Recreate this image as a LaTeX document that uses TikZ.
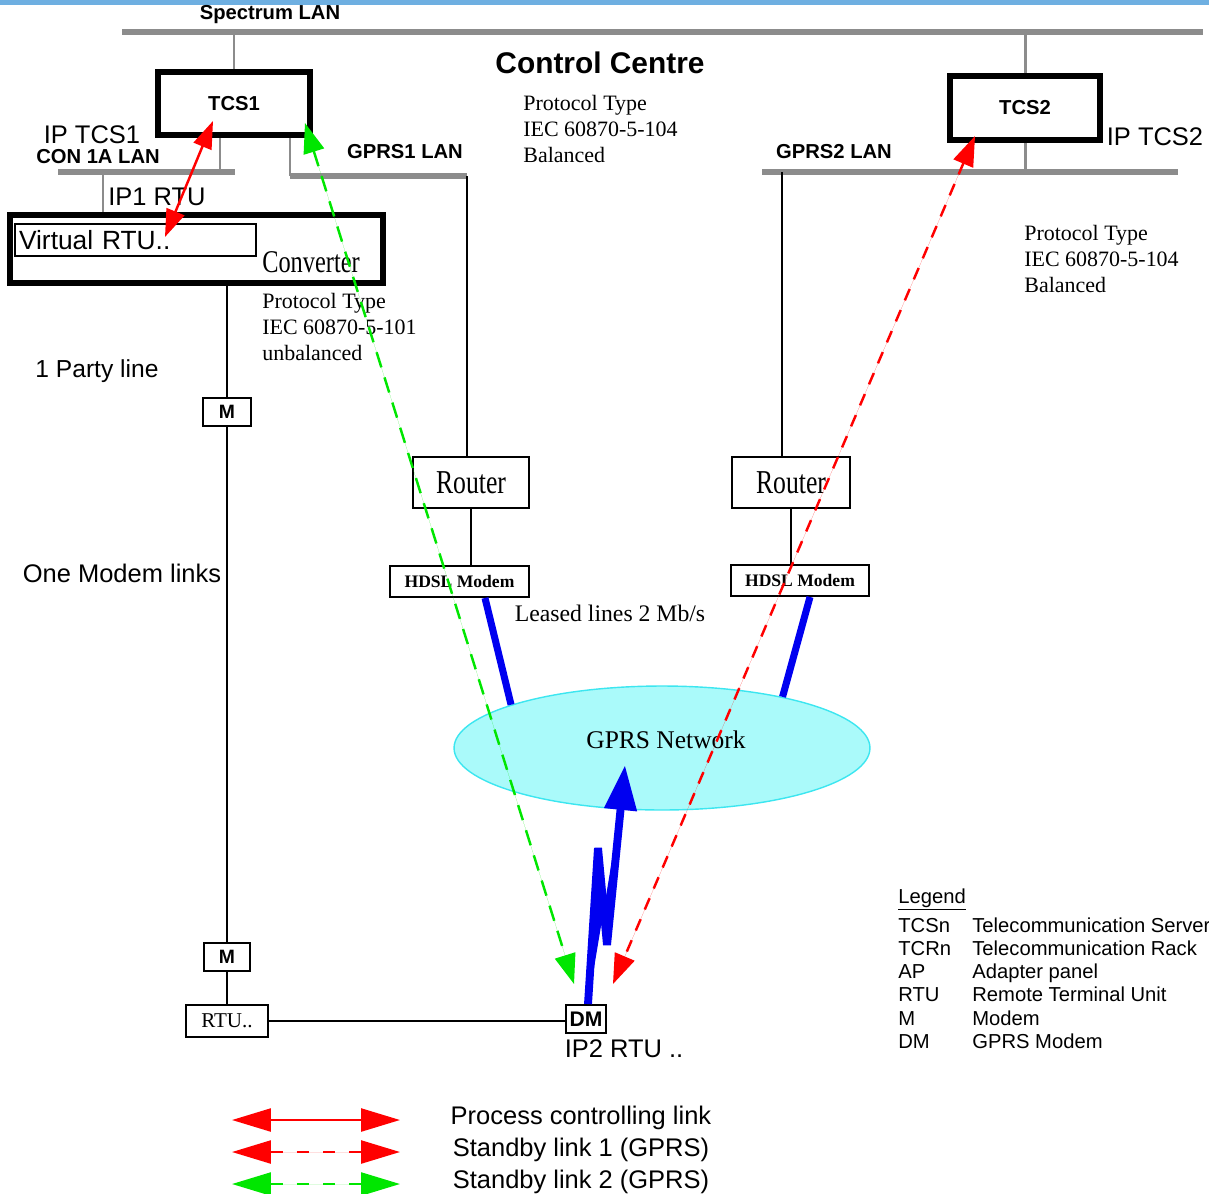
\documentclass[tikz,border=0pt]{standalone}
\usepackage{fontspec}
\usepackage{graphicx}
\setmainfont{Liberation Sans}
\newfontfamily\timesfont{Liberation Serif}
\usetikzlibrary{arrows.meta,shapes.geometric}
\definecolor{lanGray}{RGB}{140,140,140}
\definecolor{topBlue}{RGB}{110,175,225}
\definecolor{netCyan}{RGB}{170,250,250}
\definecolor{netEdge}{RGB}{60,230,240}
\definecolor{linkGreen}{RGB}{0,230,0}
\definecolor{linkRed}{RGB}{255,0,0}
\definecolor{leasedBlue}{RGB}{0,0,240}
\newcommand{\fsz}[2]{\fontsize{#1}{#2}\selectfont}
\newcommand{\narrowtxt}[1]{\scalebox{0.77}[1]{#1}}

\begin{document}
\begin{tikzpicture}[x=0.02cm, y=-0.02cm,
	thickbox/.style={draw, line width=3.4pt, inner sep=0pt},
	thinbox/.style={draw, line width=1.1pt, inner sep=1pt},
	lan/.style={draw=lanGray, line width=3pt},
	tap/.style={draw=lanGray, line width=1.7pt},
	wire/.style={draw, line width=1.1pt},
	leased/.style={draw=leasedBlue, line width=4pt},
	lab/.style={font=\fsz{14.5}{17}, inner sep=0pt},
	blab/.style={font=\fsz{11.5}{13}\bfseries, inner sep=0pt},
	serlab/.style={font=\timesfont\fsz{12.5}{15}, align=left, inner sep=0pt},
	leg/.style={font=\fsz{11.5}{13}, inner sep=0pt},
	procl/.style={draw=linkRed, fill=linkRed, line width=1.4pt,
		arrows={Triangle[length=0.55cm,width=0.38cm]-Triangle[length=0.55cm,width=0.38cm]}},
	sbone/.style={draw=linkRed, fill=linkRed, line width=1.4pt, dash pattern=on 7pt off 6pt,
		arrows={Triangle[length=0.6cm,width=0.42cm]-Triangle[length=0.6cm,width=0.42cm]}},
	sbtwo/.style={draw=linkGreen, fill=linkGreen, line width=1.4pt, dash pattern=on 9pt off 6pt,
		arrows={Triangle[length=0.6cm,width=0.42cm]-Triangle[length=0.6cm,width=0.42cm]}},
	lgproc/.style={procl, arrows={Triangle[length=0.78cm,width=0.46cm]-Triangle[length=0.78cm,width=0.46cm]}},
	lgsbone/.style={sbone, dash pattern=on 7pt off 8pt, arrows={Triangle[length=0.78cm,width=0.46cm]-Triangle[length=0.78cm,width=0.46cm]}},
	lgsbtwo/.style={sbtwo, dash pattern=on 7pt off 8pt, arrows={Triangle[length=0.78cm,width=0.46cm]-Triangle[length=0.78cm,width=0.46cm]}}]
	\useasboundingbox (0,0) rectangle (1209,1193);
	\fill[topBlue] (0,0) rectangle (1209,5);

	% control centre
	\node (tcsone) [thickbox, minimum width=3.04cm, minimum height=1.26cm, font=\fsz{11.5}{13}\bfseries] at (234,103.5) {TCS1};
	\node (tcstwo) [thickbox, minimum width=3.0cm, minimum height=1.28cm, font=\fsz{11.5}{13}\bfseries] at (1025,108) {TCS2};
	\node (conv) [thickbox, minimum width=7.46cm, minimum height=1.36cm] at (196.5,249) {};
	\node (vrtu) [thinbox, minimum width=4.82cm, minimum height=0.64cm, text width=4.66cm, align=left, inner sep=0.08cm, font=\fsz{15}{17}] at (135.5,240) {Virtual RTU..};
	\node (convtxt) [font=\timesfont\fsz{18}{20}, inner sep=0pt] at (311,262) {\narrowtxt{Converter}};

	\node (spectxt) [blab] at (270,15) {Spectrum LAN};
	\node (ctrltxt) [font=\fsz{17}{20}\bfseries, inner sep=0pt] at (600,63) {Control Centre};
	\node (iptcsone) [lab] at (92,135) {IP TCS1};
	\node (contxt) [blab] at (98,157) {CON 1A LAN};
	\node (iponertu) [lab] at (157,197) {IP1 RTU};
	\node (gprsonetxt) [blab] at (405,152) {GPRS1 LAN};
	\node (gprstwotxt) [blab] at (834,152) {GPRS2 LAN};
	\node (iptcstwo) [lab] at (1155,137) {IP TCS2};

	\node (protoa) [serlab, anchor=west] at (523,129) {Protocol Type\\IEC 60870-5-104\\Balanced};
	\node (protob) [serlab, anchor=west] at (1024,259) {Protocol Type\\IEC 60870-5-104\\Balanced};
	\node (protoc) [serlab, anchor=west] at (262,327) {Protocol Type\\IEC 60870-5-101\\unbalanced};

	% LANs
	\coordinate (spl) at (122,32);
	\coordinate (spr) at (1203,32);
	\coordinate (conl) at (58,172);
	\coordinate (conr) at (235,172);
	\coordinate (tapa) at (220,172);
	\coordinate (tapb) at (103,172);
	\coordinate (gol) at (290,176);
	\coordinate (gor) at (467,176);
	\coordinate (gtl) at (762,172);
	\coordinate (gtr) at (1178,172);
	\coordinate (taps) at (782,172);

	\draw[lan, line width=3.4pt] (spl) -- (spr);
	\draw[tap] (tcsone.north) -- (tcsone.north |- spl);
	\draw[tap] (tcstwo.north) -- (tcstwo.north |- spr);
	\draw[lan] (conl) -- (conr);
	\draw[tap] (tapa) -- (tapa |- tcsone.south);
	\draw[tap] (tapb) -- (tapb |- conv.north);
	\draw[tap] (gol |- tcsone.south) -- (gol);
	\draw[lan] (gol) -- (gor);
	\draw[lan] (gtl) -- (gtr);
	\draw[tap] (tcstwo.south) -- (tcstwo.south |- gtl);

	% leased line side
	\node (routerone) [thinbox, minimum width=2.32cm, minimum height=1.02cm, font=\timesfont\fsz{19}{21}] at (471,482.5) {\narrowtxt{Router}};
	\node (routertwo) [thinbox, minimum width=2.36cm, minimum height=1.02cm, font=\timesfont\fsz{19}{21}] at (791,482.5) {\narrowtxt{Router}};
	\node (hdslone) [thinbox, minimum width=2.78cm, minimum height=0.62cm, font=\timesfont\fsz{10}{12}\bfseries] at (459.5,581.5) {HDSL Modem};
	\node (hdsltwo) [thinbox, minimum width=2.76cm, minimum height=0.62cm, font=\timesfont\fsz{10}{12}\bfseries] at (800,580.5) {HDSL Modem};
	\node (leasedtxt) [font=\timesfont\fsz{13.5}{16}, inner sep=0pt] at (610,613) {Leased lines 2 Mb/s};

	\draw[wire] (gor) -- (gor |- routerone.north);
	\draw[wire] (taps) -- (taps |- routertwo.north);
	\draw[wire] (routerone.south) -- (routerone.south |- hdslone.north);
	\draw[wire] (routertwo.south) -- (routertwo.south |- hdsltwo.north);

	\node (gprs) [ellipse, draw=netEdge, fill=netCyan, line width=0.8pt, minimum width=8.32cm, minimum height=2.48cm] at (662,748) {};
	\node (nettxt) [font=\timesfont\fsz{14.5}{17}, inner sep=0pt] at (666,740) {GPRS Network};

	\draw[leased] ([xshift=0.51cm]hdslone.south) -- (gprs.164);
	\draw[leased] ([xshift=0.2cm]hdsltwo.south) -- (gprs.23);

	% RTU side
	\node (mone) [thinbox, minimum width=0.96cm, minimum height=0.56cm, font=\fsz{11}{13}\bfseries] at (227,412) {M};
	\node (mtwo) [thinbox, minimum width=0.92cm, minimum height=0.56cm, font=\fsz{11}{13}\bfseries] at (227,957) {M};
	\node (rtu) [thinbox, minimum width=1.64cm, minimum height=0.64cm, font=\timesfont\fsz{12}{14}] at (227,1021) {RTU..};
	\node (dm) [thinbox, minimum width=0.8cm, minimum height=0.56cm, inner sep=0.5pt, font=\fsz{12}{14}\bfseries] at (586,1019) {DM};
	\node (iptworta) [lab] at (624,1049) {IP2 RTU ..};
	\node (partytxt) [lab, font=\fsz{14}{16}] at (97,371) {1 Party line};
	\node (modemtxt) [lab, font=\fsz{14.5}{17}] at (122,573) {One Modem links};

	\draw[wire] (mone.north) -- (mone.north |- conv.south);
	\draw[wire] (mone.south) -- (mtwo.north);
	\draw[wire] (mtwo.south) -- (rtu.north);
	\draw[wire] (rtu.east) -- (rtu.east -| dm.west);

	% radio link of the GPRS modem
	\coordinate (zza) at (598,848);
	\coordinate (zzb) at (607,945);
	\coordinate (ztip) at (625,765);
	\draw[draw=leasedBlue, fill=leasedBlue, line width=4.5pt, -{Triangle[length=0.9cm,width=0.62cm]}]
		([xshift=0.04cm]dm.north) -- (zza) -- (zzb) -- (ztip);

	% links
	\draw[procl] ([xshift=-0.42cm,yshift=0.34cm]tcsone.south) -- ([xshift=0.59cm,yshift=0.06cm]vrtu.center);
	\draw[sbtwo] ([xshift=-0.16cm,yshift=0.3cm]tcsone.south east) -- ([xshift=0.18cm,yshift=0.4cm]dm.north west);
	\draw[sbone] ([xshift=0.56cm,yshift=0.14cm]tcstwo.south west) -- ([xshift=0.12cm,yshift=0.4cm]dm.north east);

	% legend
	\node (legendhd) [leg, anchor=base west] at (898,903) {\underline{Legend}};
	\foreach \abbr/\desc [count=\i] in {TCSn/Telecommunication Server, TCRn/Telecommunication Rack, AP/Adapter panel, RTU/Remote Terminal Unit, M/Modem, DM/GPRS Modem} {
		\node (abbr\i) [leg, anchor=base west] at (898,909+23.2*\i) {\abbr};
		\node (desc\i) [leg, anchor=base west] at (972,909+23.2*\i) {\desc};
	}

	\foreach \yy/\sty/\txt [count=\i] in {1120/lgproc/Process controlling link, 1152/lgsbone/Standby link 1 (GPRS), 1184/lgsbtwo/Standby link 2 (GPRS)} {
		\coordinate (la\i) at (232,\yy);
		\coordinate (lb\i) at (400,\yy);
		\draw[\sty] (la\i) -- (lb\i);
		\node (lt\i) [lab] at (581,\yy-2.5) {\txt};
	}
\end{tikzpicture}
\end{document}
